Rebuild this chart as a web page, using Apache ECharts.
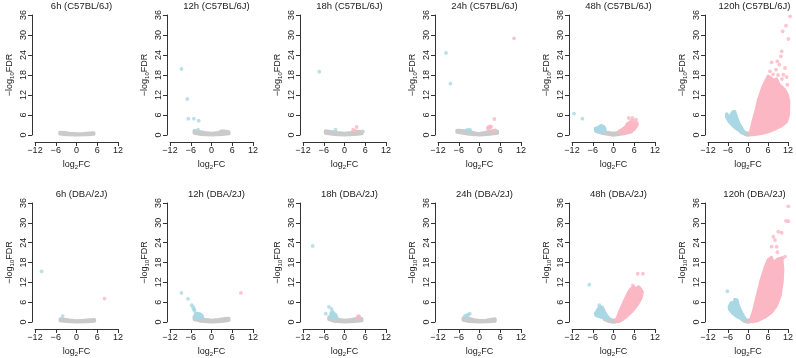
<!DOCTYPE html>
<html>
<head>
<meta charset="utf-8">
<script src="https://cdn.jsdelivr.net/npm/echarts@6/dist/echarts.min.js"></script>
<style>
  html, body { margin: 0; background: #fff; }
  #chart { width: 796px; height: 358px; }
</style>
</head>
<body>
<div id="chart"></div>
<script>
// panels, row by row
const titles = [
  '6h (C57BL/6J)', '12h (C57BL/6J)', '18h (C57BL/6J)', '24h (C57BL/6J)', '48h (C57BL/6J)', '120h (C57BL/6J)',
  '6h (DBA/2J)', '12h (DBA/2J)', '18h (DBA/2J)', '24h (DBA/2J)', '48h (DBA/2J)', '120h (DBA/2J)'
];
const xTicks = [-12, -6, 0, 6, 12];
const yTicks = [0, 6, 12, 18, 24, 30, 36];

// dense clouds of genes, as outlines [log2FC, -log10FDR]
const greyCloud = [
  [[[-4.8,0.8],[-3.5,0.7],[-2,0.5],[0,0.35],[2,0.4],[4,0.55],[5,0.6],[5,0.25],[3,0.1],[0,0.05],[-3,0.15],[-4.8,0.35]]],
  [[[-5,1.3],[-4,1.1],[-2,0.7],[0,0.45],[2,0.7],[3,1.2],[4,1.1],[5,0.9],[5,0.4],[3,0.2],[0,0.05],[-3,0.2],[-5,0.6]]],
  [[[-5.5,1.2],[-4,1.0],[-2,0.7],[0,0.45],[2,0.7],[3.5,1.1],[5,1.0],[5,0.4],[3,0.2],[0,0.05],[-3,0.2],[-5.5,0.6]]],
  [[[-6.5,1.4],[-5,1.3],[-3,1.0],[-1,0.5],[0,0.4],[1.5,0.7],[3,1.1],[4.5,1.3],[5.2,1.1],[5.2,0.6],[3,0.3],[0,0.05],[-3,0.3],[-6.5,0.9]]],
  [[[-5,1.6],[-3.5,1.3],[-2,0.8],[0,0.5],[2,0.8],[4,1.4],[5.2,1.5],[5.2,1.0],[3,0.4],[0,0.0],[-3,0.5],[-5,1.1]]],
  [[[-2.2,1.3],[-1,0.8],[0,0.4],[1,0.8],[1.4,1.0],[1.0,0.2],[0,0],[-1,0.3],[-2.2,0.9]]],
  [[[-4.7,0.9],[-3.5,0.8],[-2,0.55],[0,0.35],[2,0.45],[4,0.6],[5.2,0.7],[5.2,0.3],[3,0.1],[0,0.05],[-3,0.2],[-4.7,0.4]]],
  [[[-5,1.6],[-4,1.4],[-2,0.8],[0,0.5],[2,0.7],[4,1.0],[5,1.1],[5,0.5],[3,0.2],[0,0.05],[-3,0.3],[-5,0.8]]],
  [[[-4.5,1.5],[-3,1.2],[-1.5,0.7],[0,0.5],[2,0.7],[3.5,1.0],[5,1.0],[5,0.4],[3,0.2],[0,0.05],[-3,0.3],[-4.5,0.8]]],
  [[[-4.7,1.2],[-3,1.0],[-1.5,0.6],[0,0.4],[2,0.5],[3.5,0.8],[4.5,0.9],[4.5,0.3],[2.5,0.1],[0,0.05],[-3,0.2],[-4.7,0.6]]],
  [[[-2.6,1.3],[-1.5,0.9],[0,0.5],[1.5,0.8],[2.5,1.1],[2.5,0.7],[1.2,0.2],[0,0],[-1.2,0.2],[-2.6,0.8]]],
  [[[-1.8,1.2],[-0.8,0.7],[0,0.4],[0.8,0.7],[1.3,1.0],[1.0,0.2],[0,0],[-1,0.2],[-1.8,0.8]]]
];
const blueCloud = [
  [], [], [], [],
  [[[-5.2,1.3],[-5.2,2.0],[-4.4,2.2],[-3.6,2.8],[-3.0,2.6],[-2.6,2.0],[-2.4,1.3],[-3.5,1.1]]],
  [[[-6.4,6.3],[-5.8,5.0],[-4.5,6.9],[-4.0,7.0],[-3.8,6.2],[-2.8,3.6],[-2.0,2.2],[-1.6,1.5],[-1.2,0.8],[-1.5,0.7],[-3.0,1.6],[-4.5,2.8],[-5.6,4.0],[-6.4,5.4]]],
  [],
  [[[-4.9,1.4],[-4.6,2.4],[-4.0,2.6],[-3.3,2.4],[-2.7,1.8],[-2.7,1.3],[-3.8,1.2]]],
  [[[-4.0,1.4],[-3.9,2.6],[-3.3,2.8],[-2.6,2.2],[-2.3,1.4],[-3.2,1.2]]],
  [],
  [[[-5.2,2.6],[-4.6,3.5],[-4.0,4.6],[-3.2,4.2],[-2.6,3.0],[-1.8,1.6],[-1.2,1.0],[-2.2,1.0],[-3.5,1.5],[-5.0,2.0]]],
  [[[-5.6,4.6],[-5.0,5.8],[-4.3,5.5],[-3.9,6.8],[-3.3,6.6],[-3.0,5.2],[-2.2,3.3],[-1.4,1.8],[-0.9,1.0],[-1.5,0.8],[-3,1.5],[-4.5,2.6],[-5.5,3.8]]]
];
const pinkCloud = [
  [], [], [], [],
  [[[1.5,1.0],[2.5,1.6],[3.5,2.4],[4.0,3.3],[4.8,3.8],[5.5,3.6],[6.5,3.4],[6.8,3.0],[6.0,1.8],[5.0,1.1],[3.0,0.6]]],
  [[[0.7,0.6],[1.7,4.6],[2.5,7.5],[3.2,10.6],[4.0,13.0],[4.7,14.8],[5.5,16.5],[6.1,17.6],[7.0,17.0],[7.8,16.2],[8.5,16.8],[9.3,15.0],[10.0,14.5],[11.0,13.5],[11.8,12.0],[12.2,10.0],[12.1,6.0],[11.5,4.0],[10.0,2.8],[8.0,1.8],[6.0,1.0],[4.0,0.5],[2.0,0.2],[1.0,0.1]]],
  [], [], [], [],
  [[[0.9,0.6],[1.9,3.3],[2.7,5.2],[3.4,6.8],[4.2,8.5],[4.9,9.8],[5.8,10.5],[6.5,10.0],[7.3,10.6],[7.9,9.8],[8.3,9.0],[8.0,7.5],[7.0,5.5],[5.5,3.5],[3.5,1.5],[1.5,0.2]]],
  [[[0.7,0.3],[1.7,3.3],[2.9,8.3],[3.9,12.3],[5.1,16.3],[6.1,18.8],[7.0,19.5],[7.6,17.5],[8.3,18.5],[9.0,19.0],[10.1,19.3],[10.4,16.0],[10.2,12.0],[9.6,8.0],[8.5,5.0],[7.0,3.0],[5.0,1.5],[3.0,0.5],[1.5,0.1]]]
];

// individual genes outside the clouds
const bluePts = [
  [],
  [[-8.7,19.8],[-7.0,10.8],[-6.7,4.9],[-5.1,4.9],[-3.7,4.3],[-3.9,1.6]],
  [[-7.3,19.0],[-2.6,1.6]],
  [[-9.7,24.6],[-8.4,15.4],[-3.8,1.4],[-3.4,1.5],[-3.0,1.4],[-2.7,1.5]],
  [[-11.4,6.4],[-9.0,4.9]],
  [],
  [[-10.1,15.3],[-4.0,1.8]],
  [[-8.7,8.8],[-6.8,7.0],[-5.7,5.1],[-5.3,4.5],[-5.0,3.8],[-4.9,3.3],[-5.2,4.0]],
  [[-9.2,23.0],[-4.5,4.6],[-3.8,4.0],[-3.6,3.3],[-5.4,2.5],[-3.3,2.8]],
  [[-4.2,1.8],[-3.9,1.9],[-3.5,2.1],[-2.8,2.5],[-3.2,2.2]],
  [[-7.0,11.3],[-4.1,5.1],[-3.4,4.5]],
  [[-6.2,9.3]]
];
const pinkPts = [
  [],
  [],
  [[3.5,2.4],[2.5,1.6],[3.0,1.2]],
  [[10.0,29.0],[4.3,4.8],[2.4,2.2],[2.8,2.5],[3.2,2.3],[3.3,2.6],[2.6,1.8],[4.5,1.4],[4.2,1.3]],
  [[4.4,5.1],[5.5,5.1],[6.5,4.6],[6.8,3.6],[5.2,4.4],[6.0,4.2]],
  [[12.6,35.6],[11.4,32.8],[10.4,31.1],[12.1,28.8],[10.1,25.1],[9.9,23.6],[8.8,22.1],[7.1,21.8],[9.4,21.1],[11.1,20.1],[10.6,18.1],[11.6,17.4],[6.6,19.1],[8.4,19.6],[11.8,15.1],[7.5,18.2],[9.0,18.0],[10.2,16.8]],
  [[8.1,7.1]],
  [[8.5,8.8]],
  [[4.0,1.8],[4.3,1.6],[3.8,1.5]],
  [],
  [[7.0,14.6],[8.5,14.6],[5.6,11.1]],
  [[12.1,35.0],[11.4,30.6],[12.1,30.5],[9.1,27.3],[10.1,27.0],[7.6,25.8],[8.1,24.8],[7.1,22.8],[8.6,22.8],[8.8,21.1],[11.1,19.8],[10.4,19.3]]
];
const greyPts = [
  [], [], [[5.3,1.1]], [], [], [], [], [], [], [], [], []
];

const GREY = '#cacaca', BLUE = '#a9d8e4', PINK = '#fbb7c3', INK = '#222';
const FONT = 'Liberation Sans, Arial, sans-serif';
const lefts = [35, 170, 303, 438, 572, 708];
const tops = [15, 203];
const plotW = 83, plotH = 120;

const chart = echarts.init(document.getElementById('chart'));

const grid = [], xAxis = [], yAxis = [], title = [], series = [];
const minus = v => String(v).replace('-', '\u2212');

function polySeries(i, polys, color) {
  return {
    type: 'custom', xAxisIndex: i, yAxisIndex: i, silent: true, clip: false,
    data: polys.map(p => p[0]),
    renderItem: (params, api) => ({
      type: 'polygon',
      shape: { points: polys[params.dataIndex].map(p => api.coord(p)) },
      style: { fill: color, stroke: color, lineWidth: 3.4, lineJoin: 'round' }
    })
  };
}
function ptSeries(i, pts, color) {
  return {
    type: 'scatter', xAxisIndex: i, yAxisIndex: i, silent: true, clip: false,
    symbolSize: 3.8, itemStyle: { color: color }, data: pts
  };
}

titles.forEach((t, i) => {
  const col = i % 6, row = Math.floor(i / 6);
  grid.push({ left: lefts[col], top: tops[row], width: plotW, height: plotH });
  title.push({
    text: t, left: lefts[col] + plotW / 2, top: tops[row] - 19, textAlign: 'center',
    textStyle: { fontSize: 9.5, fontWeight: 'normal', color: INK, fontFamily: FONT }
  });
  xAxis.push({
    gridIndex: i, type: 'value', min: xTicks[0], max: xTicks[xTicks.length - 1], interval: 6,
    offset: 7, splitLine: { show: false },
    axisLine: { show: true, onZero: false, lineStyle: { color: '#333', width: 1 } },
    axisTick: { show: true, length: 4, lineStyle: { color: '#333' } },
    axisLabel: { fontSize: 9, color: INK, fontFamily: FONT, margin: 4, formatter: minus, showMinLabel: true, showMaxLabel: true },
    name: 'log{s|2}FC', nameLocation: 'middle', nameGap: 18,
    nameTextStyle: { fontSize: 9, color: INK, fontFamily: FONT, rich: { s: { fontSize: 6, color: INK, fontFamily: FONT, verticalAlign: 'bottom', padding: [4, 0, 0, 0] } } }
  });
  yAxis.push({
    gridIndex: i, type: 'value', min: yTicks[0], max: yTicks[yTicks.length - 1], interval: 6,
    offset: 3, splitLine: { show: false },
    axisLine: { show: true, onZero: false, lineStyle: { color: '#333', width: 1 } },
    axisTick: { show: true, length: 4, lineStyle: { color: '#333' } },
    axisLabel: { fontSize: 9, color: INK, fontFamily: FONT, rotate: 90, margin: 4, showMinLabel: true, showMaxLabel: true },
    name: '\u2212log{s|10}FDR', nameLocation: 'middle', nameGap: 17,
    nameTextStyle: { fontSize: 9, color: INK, fontFamily: FONT, rich: { s: { fontSize: 6, color: INK, fontFamily: FONT, verticalAlign: 'bottom', padding: [4, 0, 0, 0] } } }
  });
  series.push(polySeries(i, greyCloud[i], GREY));
  series.push(ptSeries(i, greyPts[i], GREY));
  series.push(polySeries(i, blueCloud[i], BLUE));
  series.push(polySeries(i, pinkCloud[i], PINK));
  series.push(ptSeries(i, bluePts[i], BLUE));
  series.push(ptSeries(i, pinkPts[i], PINK));
});

chart.setOption({ animation: false, backgroundColor: '#fff', title, grid, xAxis, yAxis, series });
</script>
</body>
</html>
